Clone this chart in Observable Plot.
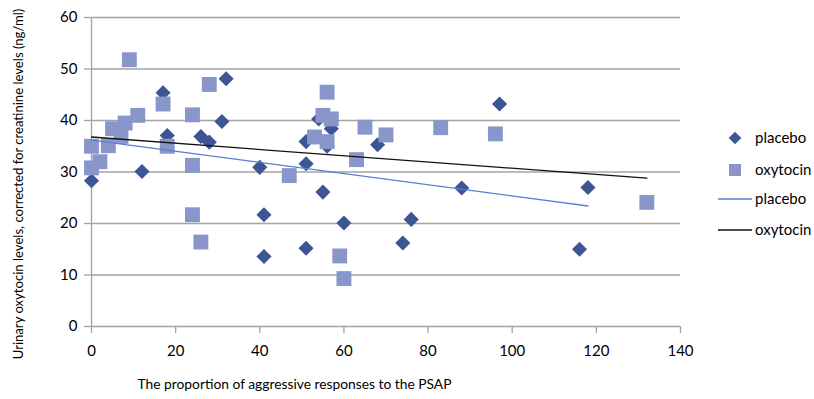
<!DOCTYPE html>
<html>
<head>
<meta charset="utf-8">
<script src="https://cdn.jsdelivr.net/npm/d3@7"></script>
<script src="https://cdn.jsdelivr.net/npm/@observablehq/plot@0.6"></script>
<style>
  html, body { margin: 0; padding: 0; background: #fff; }
  #wrap { position: relative; width: 814px; height: 399px; font-family: Lato, "Open Sans", sans-serif; }
  #legend { position: absolute; left: 0; top: 0; width: 814px; height: 399px; pointer-events: none; }
</style>
</head>
<body>
<div id="wrap"></div>
<script>
// ---- data ----
const placeboX = [0, 12, 17, 18, 26, 28, 31, 32, 40, 41, 41, 51, 51, 51, 54, 55, 56, 57, 60, 68, 74, 76, 88, 97, 116, 118];
const placeboY = [28.3, 30.1, 45.4, 37.1, 36.9, 35.8, 39.8, 48.1, 30.9, 21.7, 13.6, 15.2, 31.6, 35.9, 40.3, 26.1, 35.0, 38.4, 20.1, 35.3, 16.2, 20.8, 26.9, 43.2, 15.0, 27.0];
const oxytocinX = [0, 0, 2, 4, 5, 7, 8, 9, 11, 17, 18, 24, 24, 24, 26, 28, 47, 53, 55, 56, 56, 57, 59, 60, 63, 65, 70, 83, 96, 132];
const oxytocinY = [35.0, 30.8, 32.0, 35.1, 38.4, 36.9, 39.5, 51.8, 41.0, 43.2, 35.0, 41.1, 31.3, 21.7, 16.4, 47.0, 29.3, 36.8, 41.0, 45.5, 35.9, 40.3, 13.7, 9.3, 32.4, 38.7, 37.2, 38.6, 37.4, 24.1];
const placeboTrendX = [0, 118];
const placeboTrendY = [36.2, 23.4];
const oxytocinTrendX = [0, 132];
const oxytocinTrendY = [36.8, 28.8];
const xTicks = [0, 20, 40, 60, 80, 100, 120, 140];
const yTicks = [0, 10, 20, 30, 40, 50, 60];
const xTitle = "The proportion of aggressive responses to the PSAP";
const yTitle = "Urinary oxytocin levels, corrected for creatinine levels (ng/ml)";
const seriesNames = ["placebo", "oxytocin"];

// ---- build ----
const placebo = placeboX.map((x, i) => ({x, y: placeboY[i]}));
const oxytocin = oxytocinX.map((x, i) => ({x, y: oxytocinY[i]}));
const pTrend = placeboTrendX.map((x, i) => ({x, y: placeboTrendY[i]}));
const oTrend = oxytocinTrendX.map((x, i) => ({x, y: oxytocinTrendY[i]}));

const C_DIAMOND = "#3d5595";
const C_SQUARE = "#8896ca";
const C_BLUE = "#5a7dd6";
const C_GRID = "#a3a3a3";
const FONT = "Lato, 'Open Sans', sans-serif";

const chart = Plot.plot({
  width: 814,
  height: 399,
  marginLeft: 91,
  marginRight: 134,
  marginTop: 17,
  marginBottom: 73,
  style: {fontFamily: FONT, background: "#fff", color: "#000", overflow: "visible"},
  x: {domain: [0, 140]},
  y: {domain: [0, 60]},
  marks: [
    Plot.gridY(yTicks.slice(1), {stroke: C_GRID, strokeOpacity: 1, strokeWidth: 1.3}),
    Plot.axisX({ticks: xTicks, tickSize: 7, tickPadding: 12, fontSize: 15, stroke: C_GRID, strokeWidth: 1.3, label: null}),
    Plot.axisY({ticks: yTicks, tickSize: 7, tickPadding: 7, fontSize: 15, stroke: C_GRID, strokeWidth: 1.3, label: null}),
    Plot.ruleY([0], {stroke: C_GRID, strokeWidth: 1.3}),
    Plot.ruleX([0], {stroke: C_GRID, strokeWidth: 1.3}),
    Plot.dot(placebo, {x: "x", y: "y", symbol: "diamond2", r: 6.8, fill: C_DIAMOND, stroke: null}),
    Plot.dot(oxytocin, {x: "x", y: "y", symbol: "square", r: 8.4, fill: C_SQUARE, stroke: null}),
    Plot.line(pTrend, {x: "x", y: "y", stroke: C_BLUE, strokeWidth: 1.3}),
    Plot.line(oTrend, {x: "x", y: "y", stroke: "#111", strokeWidth: 1.3}),
    Plot.text([xTitle], {frameAnchor: "bottom-left", dx: 46, dy: 62, textAnchor: "start", fontSize: 13.8, fill: "#000"}),
    Plot.text([yTitle], {frameAnchor: "left", dx: -73, dy: 12, rotate: -90, textAnchor: "middle", fontSize: 13.1, fill: "#000"})
  ]
});

const wrap = document.getElementById("wrap");
wrap.appendChild(chart);

// ---- legend overlay ----
const lg = document.createElement("div");
lg.id = "legend";
const svgNS = "http://www.w3.org/2000/svg";
const lsvg = document.createElementNS(svgNS, "svg");
lsvg.setAttribute("width", 814);
lsvg.setAttribute("height", 399);
lsvg.style.position = "absolute";
lsvg.style.left = "0"; lsvg.style.top = "0";
const items = [
  {type: "diamond", label: seriesNames[0], y: 138},
  {type: "square", label: seriesNames[1], y: 170},
  {type: "line", color: C_BLUE, label: seriesNames[0], y: 199},
  {type: "line", color: "#111", label: seriesNames[1], y: 230}
];
items.forEach(it => {
  let el;
  if (it.type === "diamond") {
    el = document.createElementNS(svgNS, "path");
    el.setAttribute("d", d3.symbol(d3.symbolDiamond2, Math.PI * 6.8 * 6.8 * 0.7)());
    el.setAttribute("transform", `translate(735,${it.y})`);
    el.setAttribute("fill", C_DIAMOND);
  } else if (it.type === "square") {
    el = document.createElementNS(svgNS, "rect");
    el.setAttribute("x", 729); el.setAttribute("y", it.y - 6);
    el.setAttribute("width", 12); el.setAttribute("height", 12);
    el.setAttribute("fill", C_SQUARE);
  } else {
    el = document.createElementNS(svgNS, "line");
    el.setAttribute("x1", 718); el.setAttribute("x2", 752);
    el.setAttribute("y1", it.y); el.setAttribute("y2", it.y);
    el.setAttribute("stroke", it.color); el.setAttribute("stroke-width", 1.3);
  }
  lsvg.appendChild(el);
  const t = document.createElementNS(svgNS, "text");
  t.setAttribute("x", 755); t.setAttribute("y", it.y);
  t.setAttribute("dy", "0.35em");
  t.setAttribute("font-size", "15");
  t.setAttribute("font-family", FONT);
  t.textContent = it.label;
  lsvg.appendChild(t);
});
lg.appendChild(lsvg);
wrap.appendChild(lg);
</script>
</body>
</html>
